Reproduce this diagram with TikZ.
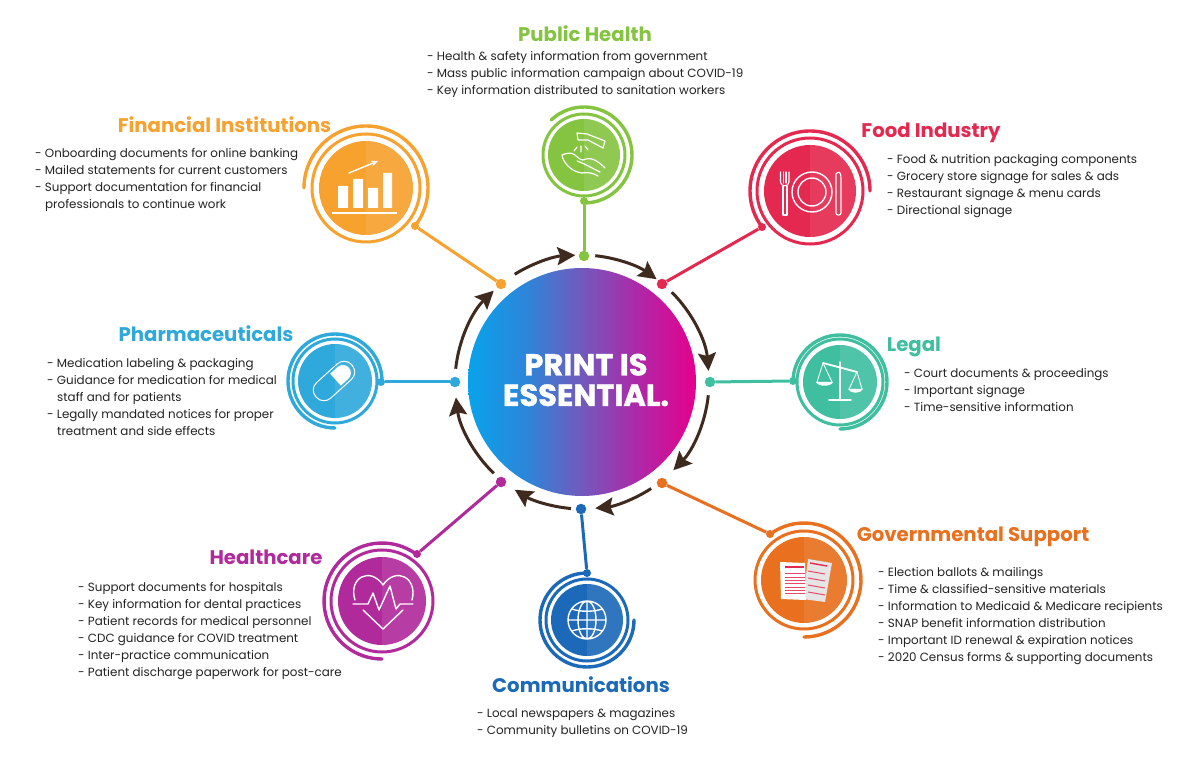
\documentclass[tikz,border=0pt]{standalone}
\usepackage{fontspec}
\setmainfont{Poppins}
\usetikzlibrary{arrows.meta,calc}
\definecolor{amberc}{HTML}{F7A12E}
\definecolor{greenc}{HTML}{84C441}
\definecolor{redc}{HTML}{E5284F}
\definecolor{tealc}{HTML}{3FBFA0}
\definecolor{cyanc}{HTML}{2FA9DC}
\definecolor{magc}{HTML}{B02A9C}
\definecolor{bluec}{HTML}{1B69B8}
\definecolor{orangec}{HTML}{E8701E}
\definecolor{darkb}{HTML}{3E2A1E}
\definecolor{bodyc}{HTML}{222222}
\pgfdeclarehorizontalshading{printshade}{100bp}{
 rgb(0bp)=(0.03,0.64,0.92);
 rgb(25bp)=(0.03,0.64,0.92);
 rgb(38bp)=(0.18,0.52,0.85);
 rgb(50bp)=(0.45,0.35,0.74);
 rgb(62bp)=(0.68,0.16,0.66);
 rgb(75bp)=(0.90,0.0,0.55);
 rgb(100bp)=(0.90,0.0,0.55)}
\tikzset{
 heading/.style={font=\fontsize{19.7}{22}\selectfont\bfseries,inner sep=0pt,anchor=base},
 bodytext/.style={font=\fontsize{11.9}{17}\selectfont,text=bodyc,align=left,anchor=north west,inner sep=0pt},
 dotc/.style={circle,fill=#1,inner sep=0pt,minimum size=10.5pt},
 enddot/.style={circle,fill=#1,inner sep=0pt,minimum size=8pt},
 link/.style={draw=#1,line width=3pt},
 flow/.style={draw=darkb,line width=3pt,-{Stealth[length=18pt,width=18pt,inset=3pt]}},
 iconw/.style={draw=white,line width=1.4pt,line cap=round,line join=round},
}
% #1 name, #2 color, #3 x, #4 y, #5 disc r, #6 ring r, #7 outer r, #8 start, #9 end (flipped angles)
\newcommand{\badge}[9]{%
 \coordinate (#1) at (#3,#4);
 \fill[#2] (#1) circle[radius=#5];
 \begin{scope}
 \clip (#3,#4-#5) rectangle (#3+#5,#4+#5);
 \fill[white,opacity=.09] (#1) circle[radius=#5];
 \end{scope}
 \draw[#2,line width=3pt] (#1) circle[radius=#6];
 \draw[#2,line width=3.4pt,line cap=round] ($(#1)+(#8:#7)$) arc[start angle=#8,end angle=#9,radius=#7];
}
\begin{document}
\begin{tikzpicture}[x=1pt,y=-1pt]
\useasboundingbox (0,0) rectangle (1200,759);
\fill[white] (0,0) rectangle (1200,759);
% centre
\coordinate (C) at (582,382);
\shade[shading=printshade] (C) circle[radius=114];
\node[font=\fontsize{30.5}{30.5}\selectfont\bfseries\addfontfeature{FakeBold=1.2},text=white,align=center,inner sep=0pt] (title) at (586,380) {PRINT IS\\ESSENTIAL.};
% flow arcs
\foreach \n/\a/\b in {f1/-122/-93,f2/-84/-54,f3/-45/-5,f4/6/44,f5/57/84,f6/95/122,f7/134/173,f8/186/226}{
 \coordinate (\n) at ($(C)+(\a:127)$);
 \draw[flow] (\n) arc[start angle=\a,end angle=\b,radius=127];
}
% badges
\badge{bA}{amberc}{366}{188}{47}{54}{62}{-180}{37}
\badge{bB}{greenc}{584}{155}{36}{41}{48}{-133}{90}
\badge{bC}{redc}{810}{191}{46}{53}{60}{0}{-218}
\badge{bD}{tealc}{840}{382}{37}{43}{47}{-180}{90}
\badge{bE}{cyanc}{335}{381}{37}{42}{47}{0}{-270}
\badge{bF}{magc}{382}{601}{44}{51}{58}{-53}{-270}
\badge{bG}{bluec}{587}{620}{36}{41}{47}{-90}{-360}
\badge{bH}{orangec}{804}{580}{43}{49}{57}{-127}{90}
% connector dots
\node[dotc=amberc] (dA) at (501,284) {}; \node[enddot=amberc] (eA) at (415,226) {};
\node[dotc=greenc] (dB) at (584,256) {}; \node[enddot=greenc] (eB) at (584,201) {};
\node[dotc=redc] (dC) at (662,284) {}; \node[enddot=redc] (eC) at (762,227) {};
\node[dotc=tealc] (dD) at (710,382) {}; \node[enddot=tealc] (eD) at (793,381) {};
\node[dotc=cyanc] (dE) at (455,382) {}; \node[enddot=cyanc] (eE) at (381,382) {};
\node[dotc=magc] (dF) at (501,482) {}; \node[enddot=magc] (eF) at (417,554) {};
\node[dotc=bluec] (dG) at (581,509) {}; \node[enddot=bluec] (eG) at (587,573) {};
\node[dotc=orangec] (dH) at (662,483) {}; \node[enddot=orangec] (eH) at (770,534) {};
\draw[link=amberc] (dA)--(eA); \draw[link=greenc] (dB)--(eB); \draw[link=redc] (dC)--(eC);
\draw[link=tealc] (dD)--(eD); \draw[link=cyanc] (dE)--(eE); \draw[link=magc] (dF)--(eF);
\draw[link=bluec] (dG)--(eG); \draw[link=orangec] (dH)--(eH);
% headings
\node[heading,text=greenc] (hB) at (585,42) {Public Health};
\node[heading,text=amberc] (hA) at (224.5,133) {Financial Institutions};
\node[heading,text=redc] (hC) at (931,138) {Food Industry};
\node[heading,text=tealc] (hD) at (914,352) {Legal};
\node[heading,text=cyanc] (hE) at (206,342) {Pharmaceuticals};
\node[heading,text=magc] (hF) at (266,564) {Healthcare};
\node[heading,text=bluec] (hG) at (581,692) {Communications};
\node[heading,text=orangec] (hH) at (973,541) {Governmental Support};
% body
\node[bodytext] (tB) at (427,51) {- Health \& safety information from government\\- Mass public information campaign about COVID-19\\- Key information distributed to sanitation workers};
\node[bodytext] (tA) at (35,148) {- Onboarding documents for online banking\\- Mailed statements for current customers\\- Support documentation for financial\\\hspace*{10pt}professionals to continue work};
\node[bodytext] (tC) at (887,154) {- Food \& nutrition packaging components\\- Grocery store signage for sales \& ads\\- Restaurant signage \& menu cards\\- Directional signage};
\node[bodytext] (tD) at (904,368) {- Court documents \& proceedings\\- Important signage\\- Time-sensitive information};
\node[bodytext] (tE) at (47,358) {- Medication labeling \& packaging\\- Guidance for medication for medical\\\hspace*{10pt}staff and for patients\\- Legally mandated notices for proper\\\hspace*{10pt}treatment and side effects};
\node[bodytext] (tF) at (78,582) {- Support documents for hospitals\\- Key information for dental practices\\- Patient records for medical personnel\\- CDC guidance for COVID treatment\\- Inter-practice communication\\- Patient discharge paperwork for post-care};
\node[bodytext] (tG) at (477,708) {- Local newspapers \& magazines\\- Community bulletins on COVID-19};
\node[bodytext] (tH) at (878,567) {- Election ballots \& mailings\\- Time \& classified-sensitive materials\\- Information to Medicaid \& Medicare recipients\\- SNAP benefit information distribution\\- Important ID renewal \& expiration notices\\- 2020 Census forms \& supporting documents};
% icons: finance
\fill[white] (338,186) rectangle (348,208) (353,179) rectangle (363,208) (368,188) rectangle (378,208) (383,173) rectangle (392,208);
\draw[white,line width=1.6pt] (332,213)--(397,213);
\draw[iconw,-{Stealth[length=7pt,width=6pt]}] (349,173)--(378,161);
% food
\draw[iconw] (812,192) circle[radius=20]; \draw[iconw] (812,192) circle[radius=14];
\draw[iconw,line width=1.1pt] (780.5,172)--(780.5,182) .. controls (780.5,187) and (789,187) .. (789,182)--(789,172);
\draw[iconw,line width=1.1pt] (783.5,172)--(783.5,183) (786,172)--(786,183);
\draw[iconw,line width=1.1pt] (783,186)--(783,215)--(787,215)--(787,186);
\draw[iconw,line width=1.1pt,rounded corners=2pt] (836,176) .. controls (836,173) and (840,171) .. (841,176)--(841,215)--(836,215)--cycle;
% legal
\draw[iconw] (840,362)--(840,400) (829,400)--(851,400);
\draw[iconw,line width=1.8pt] (823,363)--(857,372);
\draw[iconw,line width=.9pt] (823,363)--(817,382) (823,363)--(832,382) (857,372)--(849,389) (857,372)--(862,389);
\fill[white] (816,382) -- (833,382) .. controls (831,387) and (818,387) .. (816,382) -- cycle;
\fill[white] (848,389) -- (863,389) .. controls (861,394) and (850,394) .. (848,389) -- cycle;
% pill
\begin{scope}[rotate around={42:(334,381)}]
\draw[white,line width=1pt,rounded corners=10pt] (310,370.5) rectangle (358,391.5);
\fill[white] (336,373) -- (346,373) arc[start angle=-90,end angle=90,radius=8] -- (336,389) -- cycle;
\end{scope}
% heart
\draw[iconw] (355,600) .. controls (348,578) and (370,566) .. (383,585) .. controls (396,566) and (418,578) .. (412,600);
\draw[iconw] (353,604)--(368,604)--(373,593)--(379,610)--(390,586)--(396,609)--(400,604)--(413,604);
\draw[iconw] (363,610)--(383,629)--(403,610);
% globe
\draw[iconw] (587,620) circle[radius=19] (587,620) ellipse[x radius=9,y radius=19] (568,620)--(606,620) (587,601)--(587,639);
\draw[iconw] (572,609) .. controls (580,612) and (594,612) .. (602,609);
\draw[iconw] (572,631) .. controls (580,628) and (594,628) .. (602,631);
% papers
\fill[white!90!black] (808,559) -- (832,563) -- (825,602) -- (803,599) -- cycle;
\draw[redc,line width=1.4pt] (810,563)--(827,566);
\foreach \y in {571,578,585,592}{\draw[redc!85,line width=1pt] (808,\y)--(825,\y+3);}
\fill[white] (780,562) -- (805,563) -- (806,600) -- (781,599) -- cycle;
\draw[redc,line width=1.4pt] (785,567)--(804,567);
\foreach \y in {573,577,580,583,587,590,593}{\draw[redc!85,line width=1pt] (785,\y)--(805,\y);}
% hand
\draw[iconw,line width=1.2pt] (577,133)--(587,134)--(605,141)--(603,148)--(588,140)--(578,140)--cycle;
\draw[iconw,line width=1.2pt] (574,151)--(577,147) (581,152)--(581,146) (588,150)--(585,146);
\draw[iconw,line width=1.2pt] (562,155) .. controls (567,153) and (571,152) .. (575,155) .. controls (578,158) and (581,160) .. (583,160) .. controls (590,157) and (596,159) .. (605,168);
\draw[iconw,line width=1.2pt] (562,155) .. controls (563,163) and (572,172) .. (582,173) .. controls (588,172) and (593,173) .. (598,176);
\draw[iconw,line width=1.2pt] (577,161) .. controls (583,163) and (590,167) .. (600,172);
\end{tikzpicture}
\end{document}
